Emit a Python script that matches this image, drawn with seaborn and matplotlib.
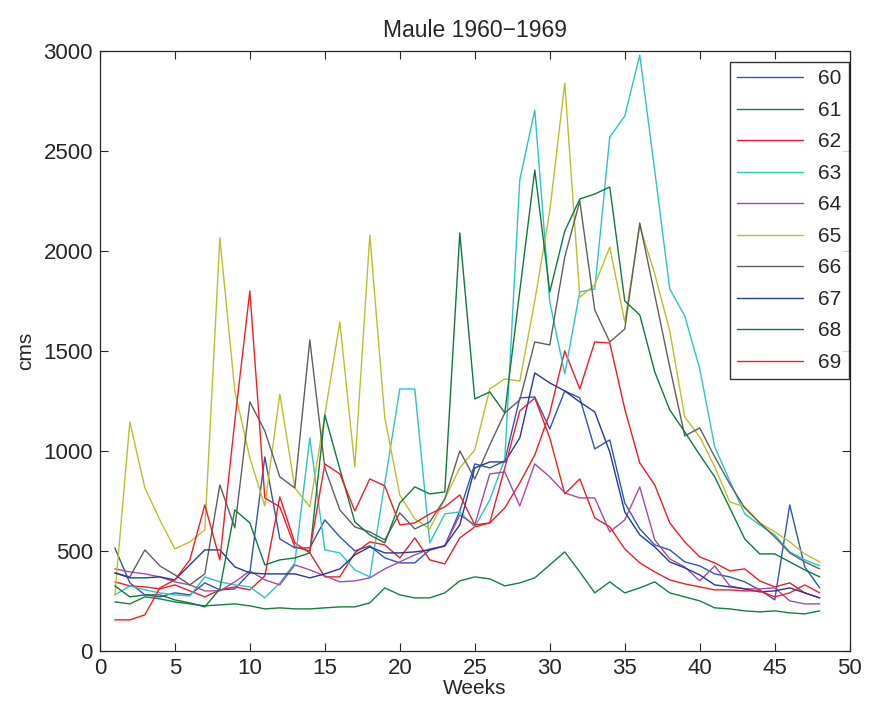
import pandas as pd
import matplotlib
matplotlib.use('Agg')
import matplotlib.pyplot as plt
import seaborn as sns

weeks = list(range(1, 49))
years = ['60', '61', '62', '63', '64', '65', '66', '67', '68', '69']

flow_60 = [515, 340, 280, 270, 290, 280, 340, 305, 310, 390, 970, 560, 515, 515, 655, 570,
           500, 525, 465, 440, 440, 505, 525, 700, 935, 915, 950, 1265, 1270, 1110, 1300, 1265,
           1010, 1055, 740, 610, 530, 505, 445, 425, 385, 370, 345, 305, 255, 730, 420, 315]
flow_61 = [245, 235, 270, 260, 245, 235, 225, 230, 235, 225, 210, 215, 210, 210, 215, 220,
           220, 240, 315, 280, 265, 265, 290, 350, 370, 360, 325, 340, 365, 430, 495, 395,
           290, 345, 290, 315, 345, 290, 270, 250, 215, 210, 200, 195, 200, 190, 185, 200]
flow_62 = [345, 325, 320, 310, 330, 300, 270, 305, 320, 305, 375, 770, 540, 490, 370, 370,
           490, 545, 530, 465, 565, 455, 435, 565, 620, 640, 715, 840, 980, 1190, 1500, 1310,
           1545, 1540, 1210, 940, 830, 640, 545, 470, 440, 400, 410, 350, 320, 340, 290, 265]
flow_63 = [280, 325, 305, 290, 280, 275, 370, 345, 330, 320, 265, 340, 440, 1065, 505, 490,
           405, 370, 840, 1310, 1310, 540, 685, 695, 620, 755, 960, 2355, 2705, 1745, 1385, 1795,
           1810, 2570, 2675, 2980, 2400, 1810, 1675, 1410, 1020, 850, 685, 630, 580, 495, 455, 425]
flow_64 = [410, 395, 385, 370, 345, 330, 300, 300, 345, 400, 355, 330, 430, 405, 375, 345,
           350, 365, 410, 445, 480, 510, 525, 680, 630, 885, 895, 725, 935, 870, 790, 765,
           765, 595, 655, 820, 555, 460, 420, 350, 425, 325, 310, 310, 315, 250, 235, 235]
flow_65 = [280, 1145, 815, 655, 510, 545, 605, 2065, 1300, 965, 725, 1285, 815, 720, 1180, 1645,
           920, 2080, 1165, 780, 660, 610, 760, 915, 1005, 1310, 1360, 1350, 1750, 2200, 2840, 1770,
           1830, 2020, 1645, 2125, 1885, 1600, 1170, 1070, 920, 745, 720, 640, 595, 545, 485, 445]
flow_66 = [390, 370, 505, 425, 380, 330, 385, 830, 615, 1245, 1100, 870, 815, 1555, 915, 705,
           620, 595, 555, 690, 610, 645, 760, 1000, 860, 1030, 1190, 1255, 1545, 1530, 1970, 2250,
           1705, 1545, 1610, 2140, 1780, 1420, 1075, 1115, 970, 835, 715, 640, 570, 490, 445, 410]
flow_67 = [390, 365, 365, 370, 355, 430, 505, 505, 420, 390, 385, 385, 385, 365, 385, 410,
           480, 520, 490, 490, 495, 505, 525, 630, 915, 945, 945, 1065, 1390, 1340, 1300, 1245,
           1195, 995, 695, 580, 520, 445, 415, 380, 330, 320, 310, 295, 300, 315, 290, 265]
flow_68 = [325, 270, 280, 280, 255, 240, 220, 310, 705, 640, 430, 455, 465, 490, 1180, 910,
           645, 580, 540, 740, 820, 785, 795, 2090, 1260, 1295, 1190, 1800, 2405, 1795, 2100, 2260,
           2285, 2320, 1750, 1680, 1395, 1205, 1095, 980, 870, 715, 560, 485, 485, 445, 405, 370]
flow_69 = [155, 155, 180, 315, 355, 455, 730, 455, 1150, 1800, 765, 720, 520, 500, 935, 885,
           700, 860, 825, 630, 640, 685, 720, 780, 630, 640, 915, 1200, 1265, 1065, 785, 860,
           665, 620, 510, 440, 395, 355, 335, 320, 305, 305, 300, 300, 270, 290, 330, 290]

all_flows = [flow_60, flow_61, flow_62, flow_63, flow_64,
             flow_65, flow_66, flow_67, flow_68, flow_69]
colors = ['#2f56b0', '#13803f', '#ee1c25', '#2cc4c4', '#a24ba8',
          '#bebe2c', '#5f5f5f', '#24389e', '#0f7a3c', '#f31e24']

frames = []
for yr, vals in zip(years, all_flows):
    frames.append(pd.DataFrame({'week': weeks, 'cms': vals, 'year': yr}))
df = pd.concat(frames, ignore_index=True)

sns.set_style('ticks')
plt.rcParams['font.family'] = ['Liberation Sans', 'DejaVu Sans']

fig = plt.figure(figsize=(8.76, 7.09), dpi=100)
ax = fig.add_axes([0.114, 0.082, 0.856, 0.846])
sns.lineplot(data=df, x='week', y='cms', hue='year', palette=colors,
             linewidth=1.0, ax=ax)

ax.set_xlim(0, 50)
ax.set_ylim(0, 3000)
ax.set_xticks(range(0, 51, 5))
ax.set_yticks(range(0, 3001, 500))
ax.tick_params(direction='in', top=True, right=True, length=6,
               labelsize=16, width=0.8, pad=5)
for sp in ax.spines.values():
    sp.set_visible(True)
    sp.set_linewidth(0.9)
ax.set_xlabel('Weeks', fontsize=15, labelpad=0)
ax.set_ylabel('cms', fontsize=15, labelpad=6)
ax.set_title('Maule 1960\u22121969', fontsize=16.5, pad=10)

leg = ax.legend(loc='upper right', bbox_to_anchor=(0.9987, 0.9817),
                fontsize=15, frameon=True, fancybox=False,
                edgecolor='black', handlelength=3.2, labelspacing=0.6,
                borderpad=0.35, handletextpad=0.7, borderaxespad=0)
leg.get_frame().set_linewidth(1.0)

fig.savefig('out.png', dpi=100)
